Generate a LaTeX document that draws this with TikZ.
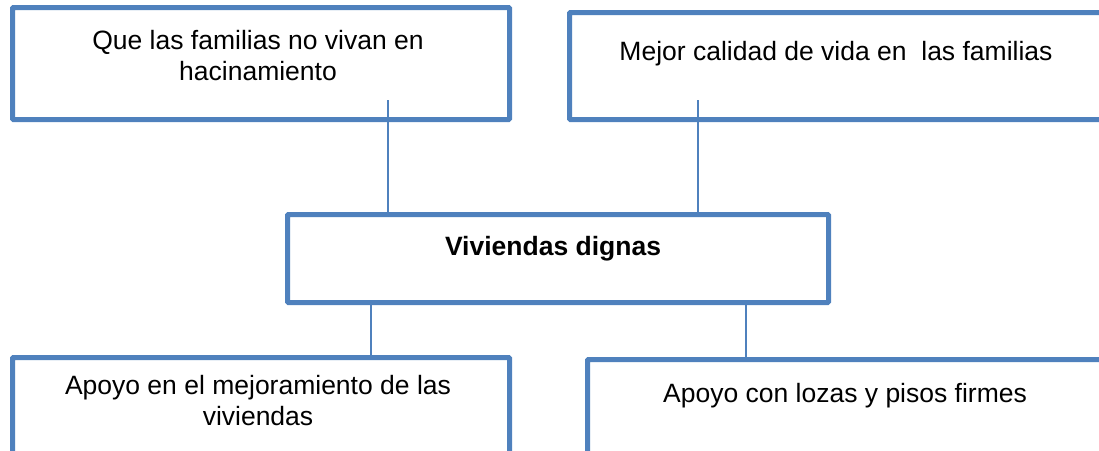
\documentclass[tikz,border=0pt]{standalone}
\usepackage{fontspec}
\setmainfont{Liberation Sans}
\definecolor{bord}{HTML}{4F81BD}
\begin{document}
\begin{tikzpicture}[x=1pt,y=-1pt,
  boxst/.style={draw=bord,line width=5pt,rounded corners=1pt,fill=white,inner sep=0pt,anchor=north west},
  conn/.style={draw=bord,line width=1.5pt},
  txt/.style={font=\fontsize{26.5}{31}\selectfont,align=center,inner sep=0pt}]
\useasboundingbox (0,0) rectangle (1099,450);
\clip (0,0) rectangle (1099,450);
% boxes
\node[boxst,minimum width=497pt,minimum height=112pt] (tl) at (10,5) {};
\node[boxst,minimum width=553pt,minimum height=107pt] (tr) at (567,10) {};
\node[boxst,minimum width=541pt,minimum height=88pt] (mid) at (285,212) {};
\node[boxst,minimum width=497pt,minimum height=120pt] (bl) at (10,355) {};
\node[boxst,minimum width=535pt,minimum height=120pt] (br) at (585,357) {};
% texts
\node[txt] (tlt) at (258,56) {Que las familias no vivan en\\hacinamiento};
\node[txt] (trt) at (836,54) {Mejor calidad de vida en \ las familias};
\node[txt,font=\fontsize{26.5}{31}\selectfont\bfseries] (midt) at (553,249) {Viviendas dignas};
\node[txt] (blt) at (258,401) {Apoyo en el mejoramiento de las\\viviendas};
\node[txt] (brt) at (845,396) {Apoyo con lozas y pisos firmes};
% connectors
\coordinate (c1) at (388,100);
\coordinate (c2) at (698,100);
\coordinate (c3) at (371,0);
\coordinate (c4) at (746,0);
\draw[conn] (c1) -- (c1 |- mid.north);
\draw[conn] (c2) -- (c2 |- mid.north);
\draw[conn] (c3 |- mid.south) -- (c3 |- bl.north);
\draw[conn] (c4 |- mid.south) -- (c4 |- br.north);
\end{tikzpicture}
\end{document}
